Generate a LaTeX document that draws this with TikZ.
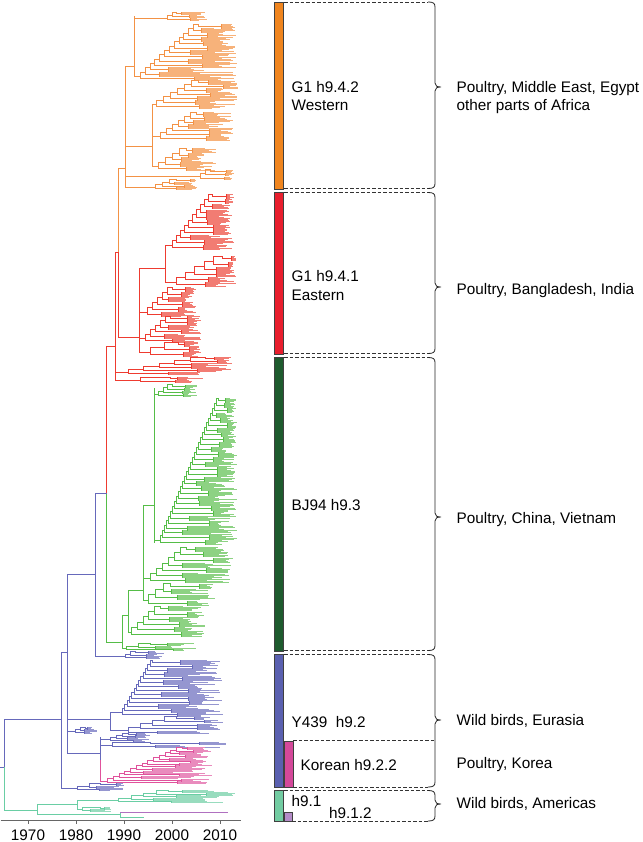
\documentclass[tikz,border=0pt]{standalone}
\usepackage{fontspec}
\setmainfont{Liberation Sans}
\definecolor{orT}{HTML}{F39245}
\definecolor{orL}{HTML}{F7B27A}
\definecolor{orB}{HTML}{F0851E}
\definecolor{reT}{HTML}{EE3B30}
\definecolor{reL}{HTML}{F27C73}
\definecolor{reB}{HTML}{E81E2D}
\definecolor{grT}{HTML}{55BD47}
\definecolor{grL}{HTML}{8DD283}
\definecolor{grB}{HTML}{1E5B2E}
\definecolor{blT}{HTML}{6669BB}
\definecolor{blL}{HTML}{9596D0}
\definecolor{blB}{HTML}{5A60B0}
\definecolor{piT}{HTML}{E0529C}
\definecolor{piL}{HTML}{E98BBD}
\definecolor{piB}{HTML}{D4489A}
\definecolor{teT}{HTML}{6ACEA4}
\definecolor{teL}{HTML}{98DCBE}
\definecolor{teB}{HTML}{72CCA2}
\definecolor{puT}{HTML}{B070C0}
\definecolor{puB}{HTML}{B48CC8}
\newcommand\labfont{\fontsize{15.3}{18}\selectfont}
\tikzset{
  trb/.style={line width=1pt,line cap=rect},
  trOr/.style={trb,draw=orT},
  trRe/.style={trb,draw=reT},
  trGr/.style={trb,draw=grT},
  trBl/.style={trb,draw=blT},
  trPi/.style={trb,draw=piT},
  trTe/.style={trb,draw=teT},
  trPu/.style={trb,draw=puT},
  lfOr/.style={trb,draw=orL},
  lfRe/.style={trb,draw=reL},
  lfGr/.style={trb,draw=grL},
  lfBl/.style={trb,draw=blL},
  lfPi/.style={trb,draw=piL},
  lfTe/.style={trb,draw=teL},
  bar/.style={draw=black!75,line width=.7pt},
  dline/.style={draw=black!80,line width=.8pt,dash pattern=on 3.5pt off 2pt},
  brk/.style={draw=black!85,line width=.8pt},
  lab/.style={font=\labfont,inner sep=0pt,anchor=base west},
  axisline/.style={draw=black!60,line width=1pt}
}
% ladder: branch style, leaf style, parent x, x0, y0, x1, y1, n, tip max
\newcommand\ladder[9]{%
  \draw[#1] (#3,#5) -- (#4,#5);
  \pgfmathsetmacro\Ls{(#7-#5)/(#8-1)}%
  \pgfmathsetmacro\Ldx{(#6-#4)/(#8-1)}%
  \pgfmathtruncatemacro\Lm{max(1,min(2,floor(abs(\Ls)/2)))}%
  \foreach \i in {1,...,#8}{%
    \pgfmathsetmacro\Lx{round(#4+(\i-1)*\Ldx)}%
    \pgfmathsetmacro\Ly{round(#5+(\i-1)*\Ls)}%
    \pgfmathsetmacro\Lr{round(#5+(\i-1)*\Ls-0.45*\Ls)}%
    \pgfmathsetmacro\Lc{round(\Lx+(0.15+0.55*rnd)*(#9-\Lx))}%
    \pgfmathsetmacro\Lra{\Lr-\Lm}%
    \pgfmathsetmacro\Lrb{\Lr+\Lm}%
    \foreach \k in {-\Lm,...,\Lm}{%
      \pgfmathsetmacro\Lt{round(\Lc+(0.3+0.7*rnd)*(#9-\Lc))}%
      \pgfmathsetmacro\Lk{\Lr+\k}%
      \draw[#2] (\Lc,\Lk) -- (\Lt,\Lk);
    }%
    \ifnum\i<#8\relax
      \pgfmathsetmacro\Lnx{round(#4+\i*\Ldx)}%
      \pgfmathsetmacro\Lny{round(#5+\i*\Ls)}%
      \draw[#1] (\Lc,\Lr) -- (\Lx,\Lr) -- (\Lx,\Lny) -- (\Lnx,\Lny)
                (\Lc,\Lra) -- (\Lc,\Lrb);
    \else
      \draw[#1] (\Lc,\Lr) -- (\Lx,\Lr) -- (\Lx,\Ly)
                (\Lc,\Lra) -- (\Lc,\Lrb);
    \fi
  }%
}
% bracket: top y, middle y, bottom y
\newcommand\brak[3]{%
  \draw[brk] (428,#1) .. controls (433,#1) and (435,#1+1) .. (435,#1+5)
    -- (435,#2-4) .. controls (435,#2-1) and (437,#2) .. (441,#2)
    .. controls (437,#2) and (435,#2+1) .. (435,#2+4)
    -- (435,#3-5) .. controls (435,#3-1) and (433,#3) .. (428,#3);
}
\begin{document}
\begin{tikzpicture}[x=1pt,y=-1pt]
\useasboundingbox (0,0) rectangle (642,842);
\pgfmathsetseed{4711}
\begin{scope}[shift={(0.5,0.5)}]
% ---------- tree: orange ----------
\draw[trOr] (118,168) -- (118,252);
\draw[trOr] (118,168) -- (125,168) (125,66) -- (125,187);
\draw[trOr] (125,66) -- (134,66) (134,16) -- (134,76);
\ladder{trOr}{lfOr}{134}{167}{18}{176}{12}{3}{206}
\ladder{trOr}{lfOr}{134}{140}{76}{198}{24}{13}{236}
\draw[trOr] (125,146) -- (152,146) (152,104) -- (152,166);
\ladder{trOr}{lfOr}{152}{156}{104}{198}{80}{7}{238}
\ladder{trOr}{lfOr}{152}{160}{136}{196}{112}{7}{233}
\ladder{trOr}{lfOr}{152}{158}{166}{186}{148}{5}{215}
\ladder{trOr}{lfOr}{125}{200}{176}{210}{169}{3}{236}
\ladder{trOr}{lfOr}{125}{155}{187}{176}{179}{4}{196}
% ---------- tree: red ----------
\draw[trRe] (106,346) -- (106,493);
\draw[trRe] (106,346) -- (115,346) (115,252) -- (115,380);
\draw[trRe] (115,252) -- (118,252) (118,252) -- (118,337) (118,337) -- (139,337) (139,268) -- (139,352);
\draw[trRe] (139,268) -- (165,268) (165,245) -- (165,282);
\ladder{trRe}{lfRe}{165}{172}{245}{212}{194}{11}{233}
\ladder{trRe}{lfRe}{165}{176}{282}{222}{256}{6}{236}
\ladder{trRe}{lfRe}{139}{147}{312}{172}{287}{6}{196}
\ladder{trRe}{lfRe}{139}{145}{338}{170}{316}{6}{200}
\ladder{trRe}{lfRe}{139}{150}{352}{178}{342}{3}{200}
\ladder{trRe}{lfRe}{115}{128}{372}{205}{357}{6}{232}
\ladder{trRe}{lfRe}{115}{140}{380}{170}{377}{2}{203}
% ---------- tree: green ----------
\draw[trGr] (106,493) -- (106,642);
\draw[trGr] (106,642) -- (122,642) (122,615) -- (122,648);
\ladder{trGr}{lfGr}{122}{126}{648}{150}{643}{3}{200}
\draw[trGr] (122,615) -- (128,615) (128,590) -- (128,632);
\ladder{trGr}{lfGr}{128}{131}{632}{160}{606}{6}{205}
\draw[trGr] (128,590) -- (143,590) (143,505) -- (143,600);
\ladder{trGr}{lfGr}{143}{150}{578}{186}{547}{7}{232}
\ladder{trGr}{lfGr}{143}{148}{600}{170}{583}{4}{215}
\draw[trGr] (143,505) -- (154,505) (154,388) -- (154,542);
\ladder{trGr}{lfGr}{154}{158}{394}{172}{384}{4}{196}
\ladder{trGr}{lfGr}{154}{160}{540}{218}{398}{30}{236}
% ---------- tree: blue ----------
\draw[trBl] (0,767) -- (4,767) (4,719) -- (4,767) (4,719) -- (61,719) (61,652) -- (61,788);
\ladder{trBl}{lfBl}{61}{77}{788}{100}{783}{3}{123}
\draw[trBl] (61,652) -- (67,652) (67,574) -- (67,753);
\draw[trBl] (67,574) -- (95,574) (95,493) -- (95,656);
\ladder{trBl}{lfBl}{95}{125}{656}{135}{651}{3}{166}
\draw[trBl] (95,493) -- (106,493);
\draw[trBl] (67,719) -- (110,719) (110,712) -- (110,730);
\ladder{trBl}{lfBl}{110}{122}{712}{152}{660}{14}{222}
\ladder{trBl}{lfBl}{110}{128}{730}{176}{716}{5}{222}
\ladder{trBl}{lfBl}{67}{75}{731}{85}{727}{3}{96}
\draw[trBl] (67,753) -- (100,753) (100,737) -- (100,760);
\ladder{trBl}{lfBl}{100}{110}{739}{128}{733}{4}{150}
\ladder{trBl}{lfBl}{100}{112}{745}{150}{742}{2}{231}
% ---------- tree: pink ----------
\draw[trPi] (100,760) -- (100,781);
\ladder{trPi}{lfPi}{100}{107}{781}{182}{747}{14}{212}
% ---------- tree: teal / purple ----------
\draw[trTe] (4,767) -- (4,810) (4,810) -- (37,810) (37,804) -- (37,814);
\draw[trTe] (37,804) -- (77,804) (77,800) -- (77,809);
\ladder{trTe}{lfTe}{77}{118}{800}{168}{790}{5}{236}
\ladder{trTe}{lfTe}{77}{82}{809}{100}{807}{2}{112}
\draw[trTe] (37,814) -- (120,814) (120,812) -- (120,817) (120,817) -- (143,817);
\draw[trPu] (120,812) -- (227,812);
% ---------- axis ----------
\draw[axisline] (0,820) -- (240,820);
\foreach \yr/\xx in {1970/28,1980/76,1990/124,2000/172,2010/220}{
  \draw[axisline] (\xx,820) -- (\xx,823);
}
\end{scope}
\foreach \yr/\xx in {1970/28,1980/76,1990/124,2000/172,2010/220}{
  \node[lab,anchor=base] (y\yr) at (\xx,840) {\yr};
}
% ---------- bars ----------
\draw[bar,fill=orB] (274,2) rectangle (283,189);
\draw[bar,fill=reB] (274,192) rectangle (283,354);
\draw[bar,fill=grB] (274,357) rectangle (283,651);
\draw[bar,fill=blB] (274,654) rectangle (283,787);
\draw[bar,fill=piB] (284,741) rectangle (293,787);
\draw[bar,fill=teB] (274,790) rectangle (283,821);
\draw[bar,fill=puB] (284,812) rectangle (292,821);
% ---------- dashed lines ----------
\draw[dline] (284,2) -- (428,2);
\draw[dline] (284,188.5) -- (428,188.5);
\draw[dline] (284,192.5) -- (428,192.5);
\draw[dline] (284,353.5) -- (428,353.5);
\draw[dline] (284,357.5) -- (428,357.5);
\draw[dline] (284,650.5) -- (428,650.5);
\draw[dline] (284,654.5) -- (428,654.5);
\draw[dline] (293,740.5) -- (435,740.5);
\draw[dline] (293,787) -- (428,787);
\draw[dline] (284,790.5) -- (428,790.5);
\draw[dline] (292,821) -- (428,821);
% ---------- brackets ----------
\brak{2}{87}{188.5}
\brak{192.5}{287}{353.5}
\brak{357.5}{517}{650.5}
\brak{654.5}{720}{787}
\brak{790.5}{804}{821}
% ---------- labels ----------
\node[lab] (l1a) at (291.5,93) {G1 h9.4.2};
\node[lab] (l1b) at (291.5,111) {Western};
\node[lab] (l2a) at (291.5,281) {G1 h9.4.1};
\node[lab] (l2b) at (291.5,300) {Eastern};
\node[lab] (l3) at (291.5,510) {BJ94 h9.3};
\node[lab] (l4) at (291.5,727) {Y439\ \ h9.2};
\node[lab] (l5) at (300.5,770) {Korean h9.2.2};
\node[lab] (l6) at (291.5,806) {h9.1};
\node[lab] (l7) at (329,818) {h9.1.2};
\node[lab] (r1a) at (456.5,93) {Poultry, Middle East, Egypt};
\node[lab] (r1b) at (456.5,111) {other parts of Africa};
\node[lab] (r2) at (456.5,294) {Poultry, Bangladesh, India};
\node[lab] (r3) at (456.5,523) {Poultry, China, Vietnam};
\node[lab] (r4) at (456.5,725) {Wild birds, Eurasia};
\node[lab] (r5) at (456.5,768) {Poultry, Korea};
\node[lab] (r6) at (456.5,808) {Wild birds, Americas};
\end{tikzpicture}
\end{document}
